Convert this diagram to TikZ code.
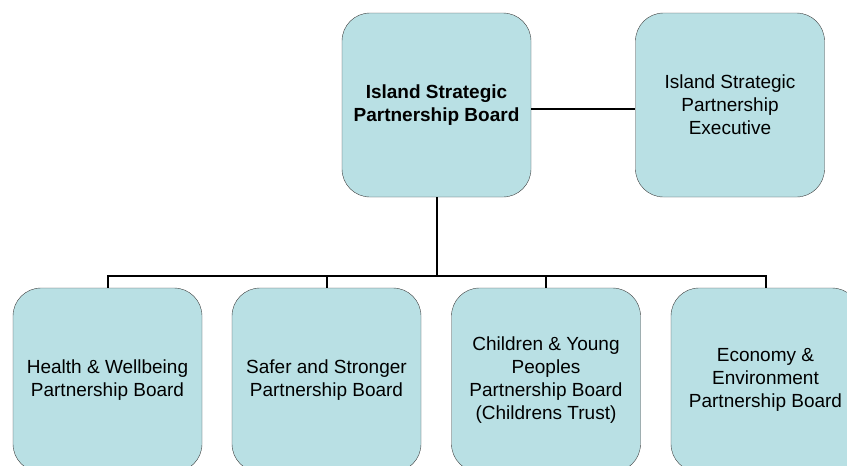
\documentclass[tikz,border=0pt]{standalone}
\usepackage{fontspec}
\setmainfont{Liberation Sans}
\usetikzlibrary{positioning,calc}
\definecolor{boardfill}{HTML}{B9E0E4}
\tikzset{
  board/.style={draw=black!75,fill=boardfill,rounded corners=28pt,
    minimum width=189pt,minimum height=184pt,inner sep=0pt,
    align=center,font=\fontsize{19}{23}\selectfont},
  link/.style={line width=2pt}
}

\begin{document}
\begin{tikzpicture}[x=1pt,y=-1pt]
\useasboundingbox (0,0) rectangle (847,466);
\clip (0,0) rectangle (847,466);
% top level
\node[board,font=\bfseries\fontsize{19}{23}\selectfont] (isp) at (436.5,105) {Island Strategic\\Partnership Board};
\node[board] (exec) at (730,105) {Island Strategic\\Partnership\\Executive};
% partnership boards
\node[board] (health) at (107.5,380) {Health \& Wellbeing\\Partnership Board};
\node[board] (safer) at (326.5,380) {Safer and Stronger\\Partnership Board};
\node[board] (children) at (546,380) {Children \& Young\\Peoples\\Partnership Board\\(Childrens Trust)};
\node[board] (economy) at (765.5,380) {Economy \&\\Environment\\Partnership Board};
\coordinate (bus) at (436.5,276);
% links
\draw[link] ($(isp.east)+(0,4)$) -- ($(exec.west)+(0,4)$);
\draw[link] (isp.south) -- (bus);
\draw[link] (health.north) |- (bus) -| (economy.north);
\draw[link] (safer.north) -- (safer.north |- bus);
\draw[link] (children.north) -- (children.north |- bus);
\end{tikzpicture}
\end{document}
